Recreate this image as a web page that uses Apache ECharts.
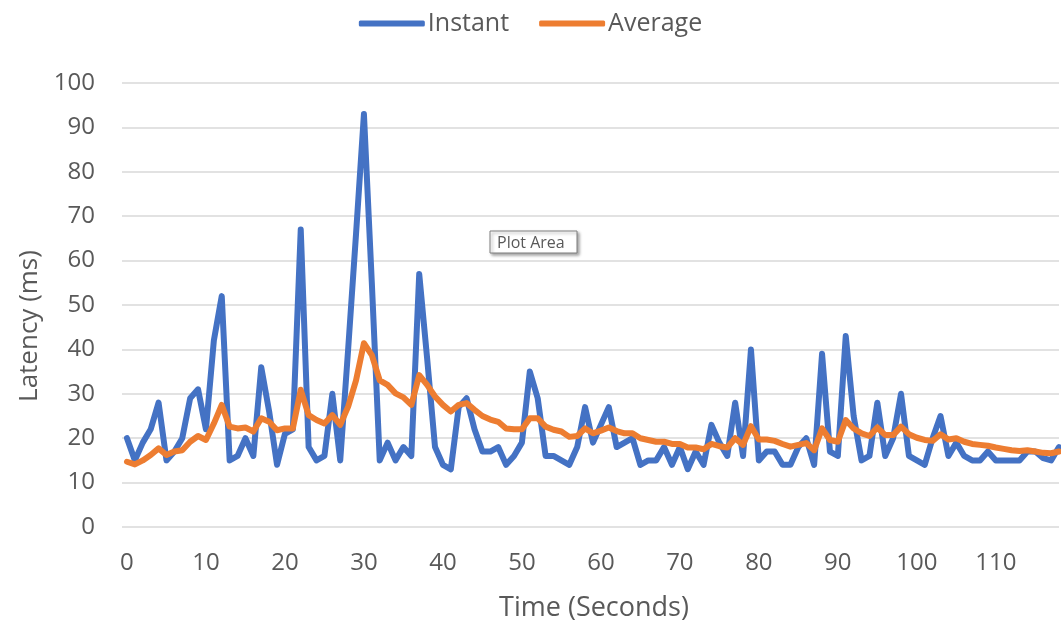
<!DOCTYPE html>
<html>
<head>
<meta charset="utf-8">
<script src="https://cdn.jsdelivr.net/npm/echarts@6/dist/echarts.min.js"></script>
<style>html,body{margin:0;padding:0;background:#fff}#c{width:1061px;height:630px}</style>
</head>
<body>
<div id="c"></div>
<script>
var seriesNames = ['Instant', 'Average'];
var xTicks = [0, 10, 20, 30, 40, 50, 60, 70, 80, 90, 100, 110];
var instant = [
20,15,19,22,28,15,17,20,29,31,
22,42,52,15,16,20,16,36,26,14,
21,22,67,18,15,16,30,15,40,66,
93,55,15,19,15,18,16,57,38,18,
14,13,27,29,22,17,17,18,14,16,
19,35,29,16,16,15,14,18,27,19,
23,27,18,19,20,14,15,15,18,14,
18,13,17,14,23,19,16,28,16,40,
15,17,17,14,14,18,20,14,39,17,
16,43,25,15,16,28,16,20,30,16,
15,14,20,25,16,19,16,15,15,17,
15,15,15,15,17,17,15.5,15,18
];
var average = [
14.7,14.1,15,16.2,17.7,16.2,17,17.3,19.2,20.5,
19.6,23.3,27.5,22.6,22.2,22.4,21.5,24.5,23.7,21.8,
22.2,22.2,30.9,25.2,24.1,23.3,25.2,23,27.1,33,
41.4,38.7,33,32,30.1,29.2,27.5,34.2,32,29.4,
27.5,26,27.5,27.9,26.4,25,24.2,23.7,22.2,22,
22,24.5,24.5,22.6,21.9,21.5,20.3,20.5,22.2,21.1,
21.7,22.4,21.6,21.1,21.1,20,19.6,19.2,19.2,18.7,
18.7,17.9,17.9,17.5,18.7,18.2,17.9,20,18.5,22.7,
19.7,19.7,19.4,18.7,18.1,18.5,18.9,17.3,22.2,19.6,
19.2,24.1,22.2,21.1,20.5,22.4,20.7,20.7,22.6,20.9,
20.1,19.6,19.4,20.9,19.7,20,19.2,18.7,18.5,18.3,
17.9,17.6,17.3,17.1,17.3,17,16.7,16.6,17
];

var FONT = '"Open Sans", sans-serif';
var TXT = '#595959';
var chart = echarts.init(document.getElementById('c'), null, {renderer: 'canvas'});
chart.setOption({
  animation: false,
  backgroundColor: '#ffffff',
  legend: {
    top: 6, left: 'center',
    itemWidth: 66, itemHeight: 6, itemGap: 30,
    icon: 'roundRect',
    textStyle: {fontFamily: FONT, fontSize: 25, color: TXT, padding: [0, 0, 0, -2]},
    data: seriesNames
  },
  grid: {left: 122, right: 2, top: 83, bottom: 103, containLabel: false},
  xAxis: {
    type: 'value',
    min: -0.63, max: 118,
    axisLine: {show: false},
    axisTick: {show: false},
    splitLine: {show: false},
    axisLabel: {
      customValues: xTicks,
      fontFamily: FONT, fontSize: 24, color: TXT, margin: 24
    }
  },
  yAxis: {
    type: 'value',
    min: 0, max: 100, interval: 10,
    axisLine: {show: false},
    axisTick: {show: false},
    splitLine: {lineStyle: {color: '#d9d9d9', width: 1.5}},
    axisLabel: {fontFamily: FONT, fontSize: 24, color: TXT, margin: 27}
  },
  graphic: [
    {type: 'text', x: 30, y: 326, rotation: Math.PI / 2,
     style: {text: 'Latency (ms)', font: '26px ' + FONT, fill: TXT, textAlign: 'center', textVerticalAlign: 'middle'}},
    {type: 'text', x: 594, y: 608,
     style: {text: 'Time (Seconds)', font: '27px ' + FONT, fill: TXT, textAlign: 'center', textVerticalAlign: 'middle'}},
    {type: 'rect', z: 100, shape: {x: 490, y: 231, width: 87, height: 22},
     style: {fill: '#ffffff', stroke: '#7f7f7f', lineWidth: 1, shadowBlur: 3, shadowOffsetX: 2, shadowOffsetY: 2, shadowColor: 'rgba(0,0,0,0.35)'}},
    {type: 'text', z: 101, x: 497, y: 243,
     style: {text: 'Plot Area', font: '16px ' + FONT, fill: TXT, textVerticalAlign: 'middle'}}
  ],
  series: [
    {name: seriesNames[0], type: 'line', symbol: 'none',
     data: instant.map(function (v, i) { return [i, v]; }),
     lineStyle: {color: '#4472C4', width: 6, join: 'round', cap: 'round'},
     itemStyle: {color: '#4472C4'}},
    {name: seriesNames[1], type: 'line', symbol: 'none',
     data: average.map(function (v, i) { return [i, v]; }),
     lineStyle: {color: '#ED7D31', width: 6, join: 'round', cap: 'round'},
     itemStyle: {color: '#ED7D31'}}
  ]
});
</script>
</body>
</html>
